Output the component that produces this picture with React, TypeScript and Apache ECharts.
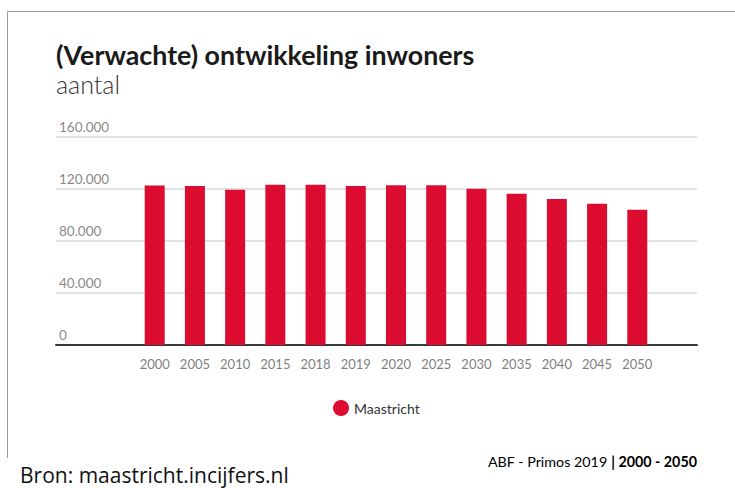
import React, { useEffect, useRef } from "react";
import * as echarts from "echarts";

const years = ["2000", "2005", "2010", "2015", "2018", "2019", "2020", "2025", "2030", "2035", "2040", "2045", "2050"];
const inwoners = [122700, 122300, 119500, 123300, 123300, 122300, 122800, 122800, 120200, 116400, 112300, 108700, 104100];
const yTicks = { min: 0, max: 160000, interval: 40000 };
const seriesName = "Maastricht";
const titleText = "(Verwachte) ontwikkeling inwoners";
const subText = "aantal";
const sourceText = "ABF - Primos 2019";
const periodText = "2000 - 2050";
const bronText = "Bron: maastricht.incijfers.nl";

const FONT = "Lato, 'Noto Sans', sans-serif";

export default function App() {
  const ref = useRef<HTMLDivElement>(null);
  useEffect(() => {
    if (!ref.current) return;
    const chart = echarts.init(ref.current, undefined, { renderer: "svg" });
    const fmt = (v: number) => (v === 0 ? "0" : v.toLocaleString("de-DE"));
    chart.setOption({
      animation: false,
      backgroundColor: "#ffffff",
      textStyle: { fontFamily: FONT },
      title: {
        text: titleText,
        subtext: subText,
        left: 56,
        top: 41,
        itemGap: 3,
        padding: 0,
        textStyle: { fontFamily: FONT, fontSize: 26.8, fontWeight: "bold", color: "#1a1a1a" },
        subtextStyle: { fontFamily: FONT, fontSize: 25, fontWeight: 300, color: "#333333" },
      },
      legend: {
        data: [seriesName],
        icon: "circle",
        itemWidth: 16,
        itemHeight: 16,
        left: 333,
        top: 400,
        padding: 0,
        textStyle: { fontFamily: FONT, fontSize: 14, color: "#333333" },
      },
      grid: [
        { left: 56, right: 38, top: 137, bottom: 143 },
        { left: 134.6, right: 77.6, top: 137, bottom: 143 },
      ],
      xAxis: [
        {
          gridIndex: 0,
          type: "value",
          min: 0,
          max: 1,
          axisLine: { show: true, onZero: false, lineStyle: { color: "#3a3a3a", width: 2 } },
          axisTick: { show: false },
          axisLabel: { show: false },
          splitLine: { show: false },
        },
        {
          gridIndex: 1,
          type: "category",
          data: years,
          axisLine: { show: false },
          axisTick: { show: false },
          axisLabel: { margin: 12, fontFamily: FONT, fontSize: 13, color: "#7f7f7f" },
        },
      ],
      yAxis: [
        {
          gridIndex: 0,
          type: "value",
          ...yTicks,
          axisLine: { show: false },
          axisTick: { show: false },
          axisLabel: {
            inside: true,
            margin: 3,
            verticalAlign: "bottom",
            lineHeight: 13,
            padding: [0, 0, 4, 0],
            fontFamily: FONT,
            fontSize: 13.5,
            color: "#8a8a8a",
            formatter: fmt,
          },
          splitLine: { show: true, lineStyle: { color: "#d9d9d9", width: 1.5 } },
        },
        {
          gridIndex: 1,
          type: "value",
          ...yTicks,
          show: false,
          splitLine: { show: false },
        },
      ],
      series: [
        {
          name: seriesName,
          type: "bar",
          xAxisIndex: 1,
          yAxisIndex: 1,
          data: inwoners,
          barWidth: 20,
          itemStyle: { color: "#dc0c30" },
        },
      ],
      graphic: [
        { type: "line", shape: { x1: 7.5, y1: 11.5, x2: 735, y2: 11.5 }, style: { stroke: "#9a9a9a", lineWidth: 1 } },
        { type: "line", shape: { x1: 7.5, y1: 11.5, x2: 7.5, y2: 458 }, style: { stroke: "#9a9a9a", lineWidth: 1 } },
        {
          type: "text",
          right: 38,
          top: 454,
          style: {
            text: `{a|${sourceText} }{b|| ${periodText}}`,
            rich: {
              a: { fontFamily: FONT, fontSize: 14.3, color: "#222222" },
              b: { fontFamily: FONT, fontSize: 14.3, fontWeight: "bold", color: "#111111" },
            },
          },
        },
        {
          type: "text",
          left: 20,
          top: 464,
          style: { text: bronText, fontFamily: "'Open Sans', sans-serif", fontSize: 21, fill: "#111111" },
        },
      ],
    });
    return () => chart.dispose();
  }, []);
  return (
    <div
      ref={ref}
      style={{ position: "absolute", left: 0, top: 0, width: 735, height: 488 }}
    />
  );
}
